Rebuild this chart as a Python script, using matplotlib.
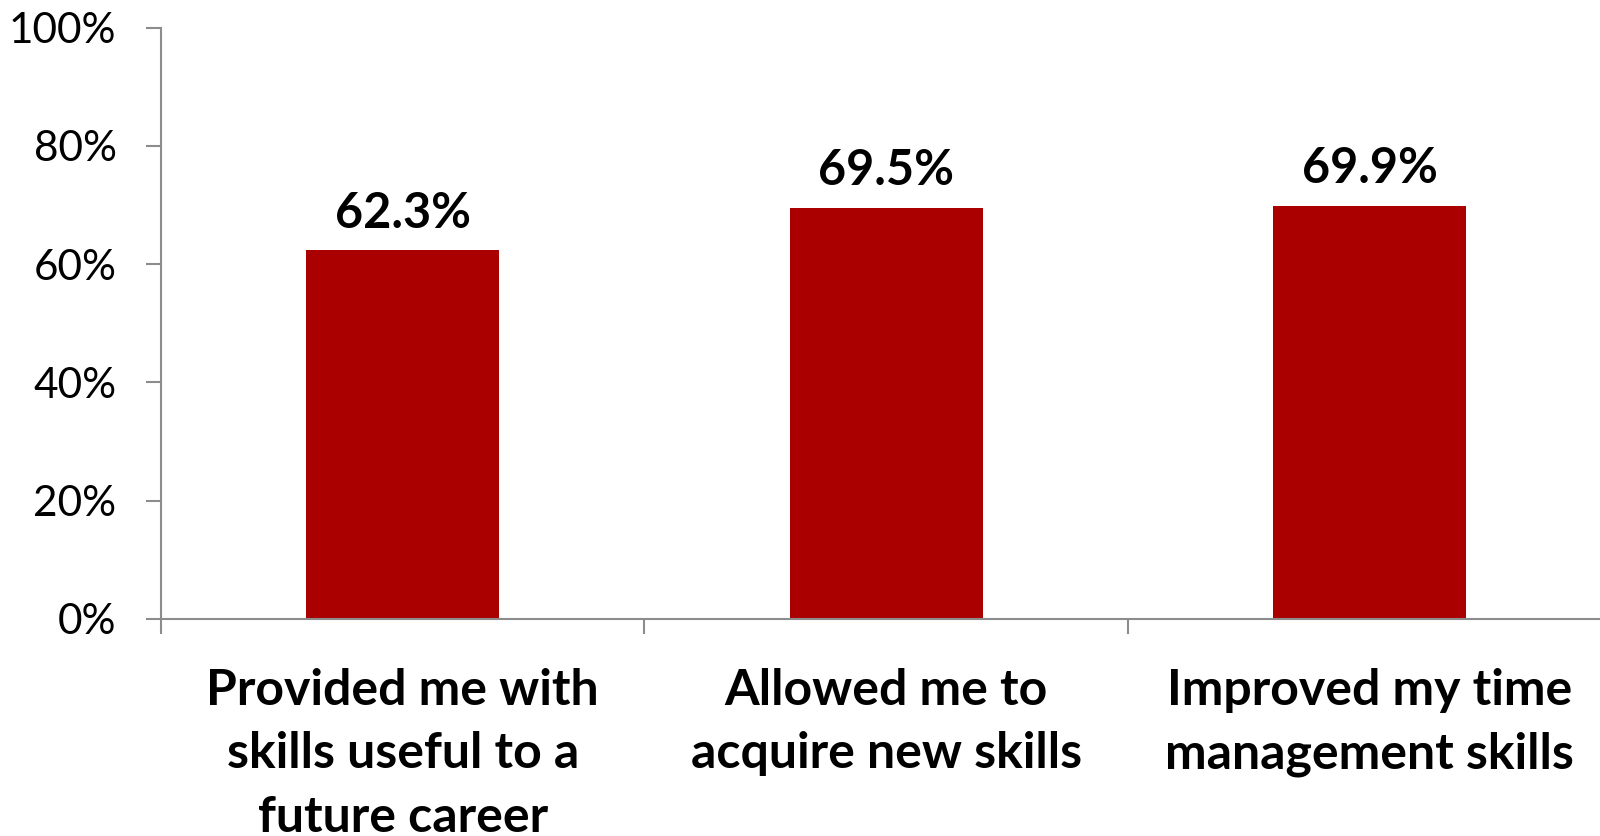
import matplotlib.pyplot as plt
from matplotlib.ticker import PercentFormatter

# data
categories = ['Provided me with\nskills useful to a\nfuture career',
              'Allowed me to\nacquire new skills',
              'Improved my time\nmanagement skills']
values = [62.3, 69.5, 69.9]
yticks = [0, 20, 40, 60, 80, 100]

bar_color = '#AA0000'
axis_color = '#8C8C8C'
plt.rcParams['font.family'] = ['Lato', 'DejaVu Sans']

fig = plt.figure(figsize=(16, 8.36), dpi=100)
ax = fig.add_axes([0.1006, 0.2596, 0.9066, 0.7075])

x = range(len(categories))
bars = ax.bar(x, values, width=0.4, color=bar_color, zorder=2)

for i, v in enumerate(values):
    ax.annotate(f'{v:.1f}%', (i, v), xytext=(0, 16.5), textcoords='offset points',
                ha='center', va='baseline', fontsize=35, fontweight='bold')

ax.set_xlim(-0.5, len(categories) - 0.5)
ax.set_ylim(0, 100)
ax.set_yticks(yticks)
ax.yaxis.set_major_formatter(PercentFormatter(decimals=0))
ax.tick_params(axis='y', labelsize=30.5, length=11, width=1.5, color=axis_color, pad=21)

# category boundaries as tick marks, labels drawn as text below
ax.set_xticks([i - 0.5 for i in range(len(categories) + 1)])
ax.set_xticklabels([])
ax.tick_params(axis='x', length=11, width=1.5, color=axis_color)
for i, c in enumerate(categories):
    ax.annotate(c, (i, 0), xytext=(0, -35), textcoords='offset points',
                ha='center', va='top', fontsize=36, fontweight='bold',
                linespacing=1.5, annotation_clip=False)

for s in ['top', 'right']:
    ax.spines[s].set_visible(False)
for s in ['left', 'bottom']:
    ax.spines[s].set_color(axis_color)
    ax.spines[s].set_linewidth(1.5)

fig.savefig('out.png', dpi=100)
